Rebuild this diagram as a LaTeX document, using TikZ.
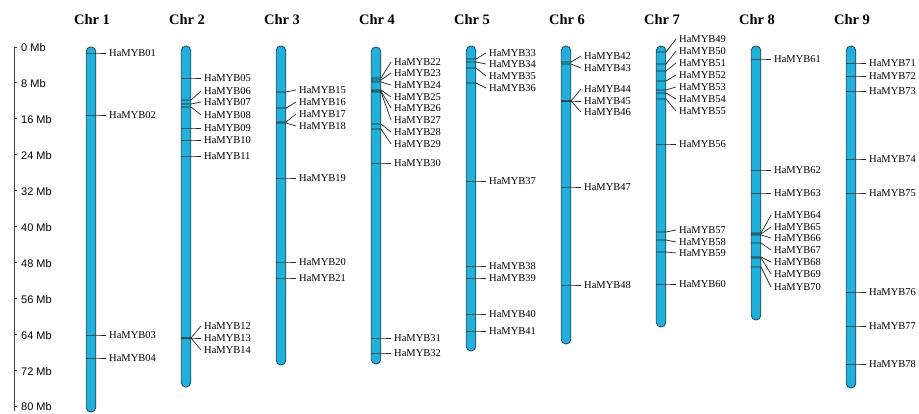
\documentclass[tikz,border=0pt]{standalone}
\usepackage{fontspec}
\setmainfont{Liberation Serif}
\newfontfamily\axisfont{Liberation Sans}
\usetikzlibrary{positioning}
\definecolor{chrblue}{RGB}{33,176,218}
\definecolor{chrline}{RGB}{28,72,92}

\begin{document}
\begin{tikzpicture}[x=1pt, y=-1pt,
    chrom/.style={rectangle, draw=chrline, fill=chrblue, line width=0.8pt, rounded corners=4.5pt, minimum width=9.5pt, inner sep=0pt},
    title/.style={font=\bfseries\fontsize{14.5}{16}\selectfont},
    gene/.style={anchor=west, inner xsep=3pt, inner ysep=1pt, font=\fontsize{10.5}{12}\selectfont},
    marker/.style={draw=black!85, line width=0.7pt},
    axis/.style={draw=black!75, line width=0.9pt},
    scalelabel/.style={anchor=west, inner sep=1pt, font=\axisfont\fontsize{11}{12}\selectfont}
]
    \useasboundingbox (0,0) rectangle (919,414);

    % Scale bar
    \coordinate (atop) at (14,47);
    \coordinate (abot) at (14,411);
    \draw[axis] (atop) -- (abot);
    \foreach \k in {0,...,10} {
        \coordinate (t\k) at (14,{47+35.9*\k});
        \node[scalelabel] (s\k) at (20,{48+35.9*\k}) {\pgfmathparse{int(8*\k)}\pgfmathresult\ Mb};
        \draw[axis] (t\k) -- ++(3,0);
    }

    % Chromosomes (number/x/top/bottom)
    \foreach \i/\cx/\tp/\bt in {1/91/47/412, 2/186/46/387, 3/281/46/365,
                                4/376/47/364, 5/471/46/351, 6/566/46/344,
                                7/661/46/327, 8/756/46/320, 9/851/46/388} {
        \node[chrom, minimum height={(\bt-\tp)*1pt}] (chr\i) at (\cx,{(\tp+\bt)/2}) {};
        \node[title] (ttl\i) at (\cx+1,20) {Chr \i};
    }

    % Genes (name/chromosome x/marker y/label y)
    \foreach \n/\cx/\my/\ly in {
        01/91/53/53, 02/91/115/115, 03/91/335/335, 04/91/358/358,
        05/186/78/78, 06/186/100/91, 07/186/104/102, 08/186/107/115,
        09/186/128/128, 10/186/140/140, 11/186/156/156,
        12/186/338/326, 13/186/338/338, 14/186/338/350,
        15/281/92/90, 16/281/108/102, 17/281/122/114, 18/281/123/126,
        19/281/178/178, 20/281/262/262, 21/281/278/278,
        22/376/78/62, 23/376/80/73, 24/376/82/85, 25/376/90/97,
        26/376/91/108, 27/376/92/120, 28/376/124/132, 29/376/129/144,
        30/376/163/163, 31/376/338/338, 32/376/353/353,
        33/471/59/53, 34/471/62/64, 35/471/68/76, 36/471/83/88,
        37/471/181/181, 38/471/266/266, 39/471/278/278,
        40/471/314/314, 41/471/331/331,
        42/566/62/56, 43/566/64/68, 44/566/101/89, 45/566/101/101,
        46/566/101/112, 47/566/187/187, 48/566/285/285,
        49/661/52/39, 50/661/64/51, 51/661/71/63, 52/661/81/75,
        53/661/90/87, 54/661/93/99, 55/661/99/111, 56/661/144/144,
        57/661/232/230, 58/661/240/242, 59/661/252/253, 60/661/284/284,
        61/756/59/59, 62/756/170/170, 63/756/193/193,
        64/756/233/215, 65/756/234/227, 66/756/235/238, 67/756/243/250,
        68/756/257/262, 69/756/258/274, 70/756/267/287,
        71/851/63/63, 72/851/76/76, 73/851/91/91, 74/851/159/159,
        75/851/193/193, 76/851/292/292, 77/851/326/326, 78/851/364/364} {
        \coordinate (m\n) at (\cx-5,\my);
        \node[gene] (g\n) at (\cx+15,\ly) {HaMYB\n};
        \draw[marker] (m\n) -- ++(10,0) -- (g\n.west);
    }
\end{tikzpicture}
\end{document}
